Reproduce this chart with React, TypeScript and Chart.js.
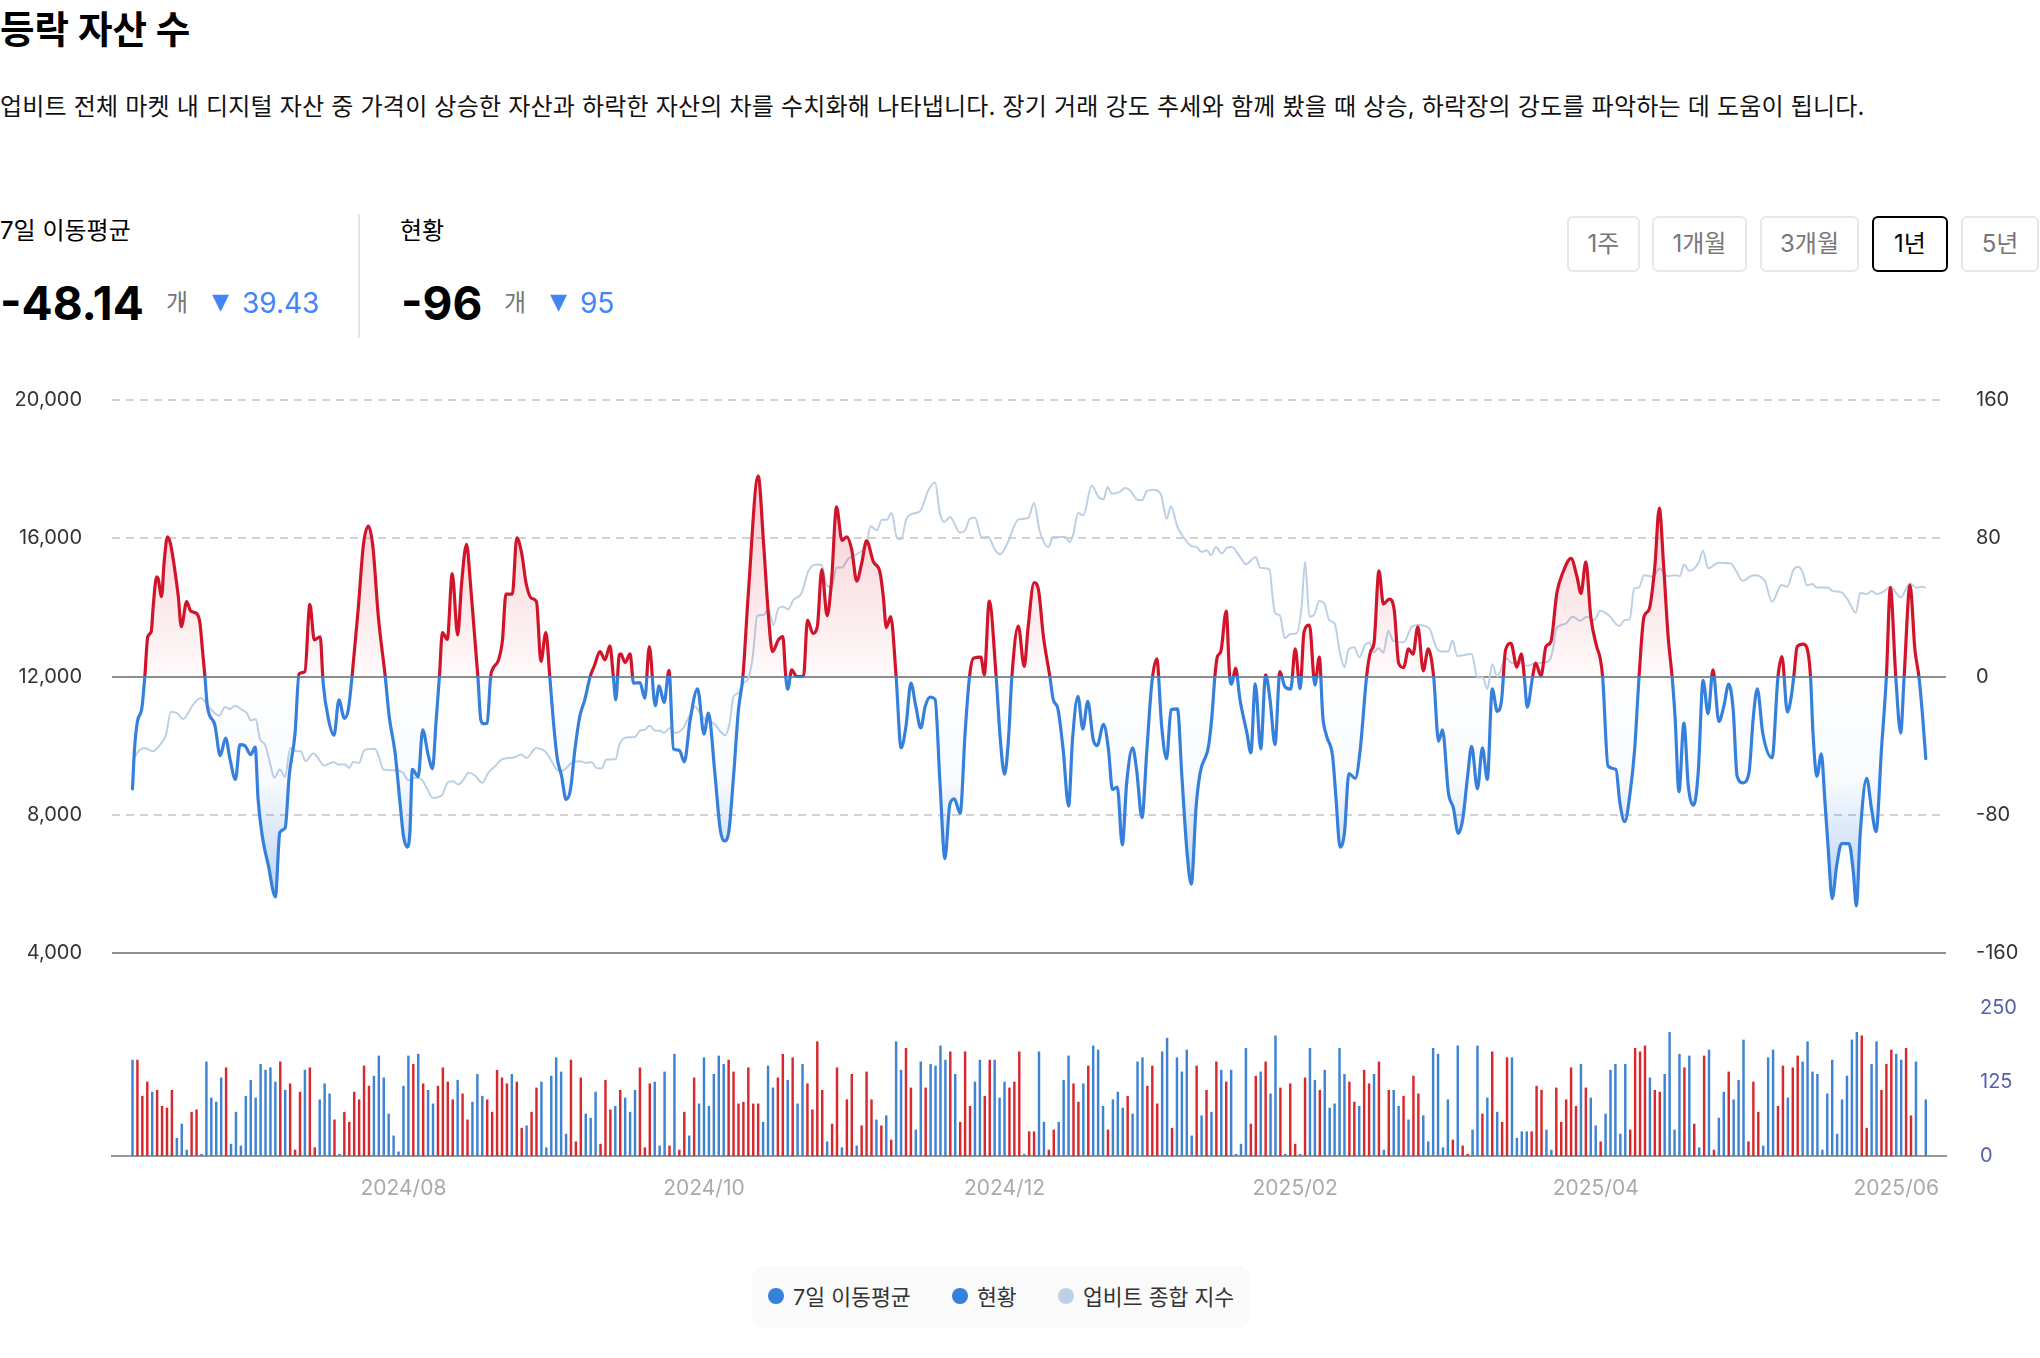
import React, { useEffect, useRef } from 'react';
import { Chart, registerables } from 'chart.js';

Chart.register(...registerables);

const FONT = 'Inter, "Noto Sans CJK KR", sans-serif';
Chart.defaults.font.family = FONT;

const RED = '#d2142a';
const BLUE = '#3680dc';
const INDEX_COLOR = '#bcd0e5';

// days counted from the first bar
const maDays = [
  0, 0.4, 1, 1.9, 2.5, 3.1, 3.8, 4.2, 4.9, 5.2,
  5.9, 6.4, 7.1, 7.7, 8.6, 9.3, 9.9, 11, 11.8, 13,
  13.7, 14.2, 14.7, 15.2, 16.7, 17.8, 18.9, 19.8, 20.9, 21.8,
  22.8, 24, 24.9, 25.5, 26.4, 27.6, 29, 29.9, 31, 31.8,
  33, 33.8, 35, 36, 36.9, 38.1, 38.7, 39.8, 40.9, 41.9,
  43, 43.8, 44.6, 45.8, 46.9, 47.9, 48.8, 49.9, 51.3, 52.1,
  53.3, 54.3, 55, 55.8, 56.3, 56.8, 58, 58.9, 60, 60.9,
  61.6, 62.3, 62.9, 63.9, 64.9, 66, 66.8, 67.8, 68.6, 70.1,
  70.7, 71.2, 72, 72.7, 73.2, 74.3, 75.1, 75.8, 77.1, 78,
  79, 79.9, 81, 82, 82.9, 83.9, 84.7, 85.4, 86.2, 87.1,
  88, 88.9, 89.8, 90.8, 91.8, 92.9, 93.7, 94.9, 95.9, 96.9,
  97.6, 98.1, 98.8,
  99.1, 100, 101, 101.7, 103, 104, 104.9, 106.1, 106.9, 107.9,
  108.9, 109.8, 111, 112, 113.2, 114.7, 116, 116.9, 118.2, 119.3,
  120.1, 121, 122, 123, 123.9, 125, 127, 128.1, 129.1, 129.9,
  131.1, 132, 132.6, 133, 133.8, 134.8, 136.2, 137, 138.1, 139,
  139.9, 141, 141.9, 142.9, 144, 145, 146, 147, 148, 149,
  150.4, 151.7, 152.4, 153, 153.9, 155, 156, 157, 158, 159,
  160, 160.9, 161.9, 162.9, 163.9, 164.9, 165.9, 166.8, 168, 169,
  169.9, 170.7, 172.2, 172.9, 173.9, 175.3, 176.1, 177, 177.8, 178.5,
  179.8, 181, 181.8, 183, 183.9, 184.9, 186.2, 186.9, 187.8, 188.9,
  190, 190.8, 191.9, 192.9, 193.9, 195, 195.8,
  197.1, 198.1, 198.9, 199.9, 200.9, 201.8, 203, 203.8, 204.9, 205.9,
  206.9, 207.9, 208.9, 209.9, 210.8, 212.1, 213, 214, 214.9, 215.9,
  216.7, 218.4, 219.1, 219.7, 220.2, 220.9, 222, 222.7, 223.1, 223.9,
  224.8, 226.2, 227, 227.9, 229, 230, 230.9, 231.9, 232.9, 233.9,
  235.1, 236, 237, 237.8, 238.9, 240, 240.9, 241.6, 242.4, 243.6,
  244.3, 245.1, 246, 246.9, 248.2, 249.2, 250.5, 251.3, 252, 253,
  253.9, 255.1, 256.1, 257, 258, 259, 259.9, 260.9, 262, 263,
  264.1, 265.1, 265.9, 267.1, 268.1, 269.1, 270, 271, 271.8, 273,
  274, 275, 276, 277, 277.9, 278.7, 279.8, 281, 281.9, 282.5,
  283.1, 284.2, 284.8, 285.9, 286.9, 287.9, 289.1, 290.4, 292, 293.2,
  294, 295, 296, 297.2, 297.9, 298.4,
  299.5, 301.1, 301.9, 302.9, 303.9, 304.9, 305.8, 306.8, 307.8, 309,
  309.9, 310.8, 311.7, 312.5, 313.1, 313.9, 314.9, 315.8, 316.9, 317.8,
  318.8, 319.8, 320.8, 322, 323, 324, 324.9, 325.7, 326.9, 328.1,
  329, 329.8, 330.9, 332.8, 334, 334.8, 335.9, 336.7, 337.2, 337.9,
  339.1, 339.9, 340.6, 341.1, 341.9, 342.8, 343.5, 344.2, 345, 345.9,
  346.9, 348.4, 349.3, 349.9, 350.7, 352, 353, 353.9, 355, 356,
  356.8, 357.9, 358.9, 359.6, 360.8, 361.8, 362.6, 363.3, 364,
];
const maValues = [
  -65, -42.3, -26, -18.3, 0, 23, 26, 40.4, 57.7, 56.7,
  46.2, 65.4, 80.8, 76.9, 61.5, 46.2, 28.8, 43.3, 37.9, 36.5,
  30.8, 15.4, 0, -17.3, -27.9, -45.8, -35.6, -48, -59.6, -39.4,
  -40, -45.2, -40.8, -71.2, -93.3, -109.6, -127.5, -90.4, -87.5, -57.7,
  -32.7, 1.5, 2.9, 41.7, 21.2, 23, -3.8, -25, -34, -13.5,
  -24.2, -19.2, 1, 38.5, 76.9, 87.1, 75, 34.6, 0, -23,
  -44.2, -73, -92.3, -98.7, -90.4, -53.8, -58, -30.8, -45.2, -53.3,
  -26.9, 0, 25.4, 21.5, 59.6, 24, 53.8, 76.5, 53.8, 0,
  -25, -27.3, -26.9, 0, 4.8, 9.6, 21.2, 47.7, 47.7, 80.2,
  71.2, 53.8, 45.2, 43.3, 8.7, 25.4, 0, -25, -47.1, -57.7,
  -71.2, -65.4, -42.3, -23, -13.5, 0, 5.8, 14.4, 9.6, 17.7,
  0, -13.5, 12.5,
  13.1, 8.1, 13.1, -3.8, -3.5, -12.5, 17.3, -16.9, -5.4, -15,
  3.5, -41.9, -42.7, -49.4, -25, -7.1, -33.3, -21.2, -55.8, -88.5,
  -95.2, -90.4, -57.7, -19.2, 0, 48.1, 116, 76.9, 34.6, 14.4,
  21.2, 23.1, 0, -7.3, 3.8, 0, 0, 32.7, 25, 28.8,
  61.9, 35.2, 55.8, 98.1, 78.8, 80.8, 73.1, 55.2, 65.4, 78.5,
  66.3, 60.6, 46.2, 28.3, 34.6, 0, -41.3, -28.8, -3.8, -17.3,
  -29.8, -17.3, -11.9, -13.1, -61.5, -105.4, -74, -70.8, -79.2, -32.7,
  0, 10.6, 11.2, 1, 43.7, 0, -34.6, -56.7, -36.5, 0,
  29.2, 5.8, 28.8, 54.4, 50, 23.1, 0, -13.5, -18.3, -42.3,
  -75, -36.5, -11.5, -30.4, -14.4, -36.5, -40,
  -27.7, -42.3, -65.4, -64, -97.5, -61.5, -41.3, -53.8, -81.7, -42.3,
  -3.8, 10.2, -28.8, -47.7, -19.2, -18.7, -57.7, -100, -120.2, -75,
  -55.8, -40.4, -23, 0, 11.5, 14.4, 37.9, 0, -4.4, 4.8,
  -13.5, -32.7, -44.2, -4.2, -41.9, 1, -13.5, -39.4, 2.9, -5.8,
  -7.3, 16, -7.1, 26, 29.8, -5, 11.2, -23, -34.6, -46.2,
  -71.2, -98.7, -90.4, -56.2, -59, -42.3, 0, 14.4, 19.2, 61.2,
  41.9, 44.8, 38.5, 7.7, 5.2, 16, 12.9, 28.8, 3.3, 16,
  0, -37.5, -30.8, -67.3, -76, -90.8, -82.7, -57.7, -40.4, -65,
  -41.3, -59.6, -7.1, -20.2, -13.5, 15.4, 19.2, 5.4, 13.1, 0,
  -17.7, 0, 7.7, 0.4, 17.3, 20.2, 48.1, 60.6, 68.3, 57.7,
  48.1, 66.3, 34.6, 17.3, 10.6, 0,
  -51.9, -53.8, -73.1, -84, -69.2, -42.3, 0, 34.6, 38.5, 63.5,
  97.5, 63.5, 23.1, 0, -23.1, -66.7, -26.9, -63.5, -74.4, -55.8,
  -2.3, -21.5, 3.8, -26, -17.3, -4.4, -19.2, -57.7, -61.5, -55.8,
  -23.1, -7.1, -32.7, -47.1, 0, 11.5, -20.6, -11.5, 0, 17.3,
  18.7, 16.3, 0, -32.7, -57.7, -44.8, -71.2, -100, -128.5, -109.6,
  -96.7, -96.7, -113.5, -132.7, -90.4, -59, -76.9, -89.8, -42.3, 0,
  51.5, 0, -32.7, 0, 52.9, 15.4, 0, -21.2, -47.5,
];

// 업비트 종합 지수
const indexDays = [
  0, 1.2, 2.5, 4.1, 5.6, 6.8, 7.8, 9, 10.3, 11.3,
  12.3, 13.9, 15.4, 17.6, 18.8, 19.7, 20.8, 22.2, 23.2, 24,
  25, 25.9, 26.9, 27.9, 28.8, 29.9, 31, 32, 33.3, 34.2,
  35.1, 36.7, 37.4, 38.9, 40.8, 41.8, 43.1, 44, 44.8, 46,
  46.9, 47.9, 49.2, 50.1, 50.9, 53.3, 54.8, 56, 57.3, 58.7,
  59.7, 60.9, 62.8, 64.1, 65.1, 66.1, 67.2, 68.2, 69.5, 71,
  72.2, 73.6, 74.9, 76.3, 77.6, 78.8, 80, 81.9, 83.7, 84.7,
  86, 87.1, 88.1, 89.1, 90.8, 92.2, 93.2, 94.1, 95.2, 96.2,
  98.1, 98.8,
  100.7, 102, 103, 104, 105, 106.1, 107.1, 107.9, 109.1, 110.1,
  111.8, 113, 114.2, 115.2, 116.6, 117.9, 119.3, 120.3, 121.2, 122,
  123, 124, 125, 125.9, 126.8, 128.1, 129.1, 130.1, 131.1, 132.1,
  133.1, 134.1, 135.8, 137.2, 138.9, 139.9, 140.9, 141.9, 142.9, 144,
  145.3, 147, 149, 149.8, 151.1, 152.1, 153.1, 154.1, 155.1, 156,
  157.1, 158.5, 160, 161.5, 162.9, 163.9, 164.8, 165.9, 168, 169,
  170, 171, 172.4, 173.7, 175.1, 176.1, 177.4, 179.8, 181.8, 183,
  184.1, 185.9, 186.9, 189.3, 190.2, 191, 191.9, 193, 194.7, 196.1,
  197.1, 197.9, 198.8, 200.3,
  201.5, 202.5, 203.7, 204.9, 205.9, 207.2, 208.7, 209.9, 210.8, 212.1,
  213.3, 215, 215.9, 217, 218.1, 218.9, 219.9, 221.1, 222.2, 223.1,
  224.8, 226, 228, 228.9, 230.8, 231.4, 231.9, 232.9, 233.9, 235,
  236.3, 237.3, 238, 238.9, 239.8, 240.9, 241.9, 242.9, 244, 245.1,
  246, 246.8, 248, 249, 250.2, 251.1, 251.9, 252.9, 253.9, 254.9,
  255.9, 258, 259.7, 261, 263.2, 264.7, 265.8, 267.1, 267.9, 268.9,
  271.8, 273, 274.1, 275, 276, 277, 278.8, 280, 281.3, 283,
  285, 287.4, 288.3, 289, 290.8, 292.3, 293.8, 295.2, 296.7, 297.9,
  299.6, 301.8,
  302.9, 303.9, 304.8, 305.8, 306.8, 308.7, 309.9, 311.7, 313.1, 314.1,
  314.9, 316, 317.8, 318.8, 319.8, 321.9, 324.4, 325.6, 326.8, 329,
  331.3, 332.8, 334.7, 335.9, 337.1, 338.1, 339.1, 339.8, 341, 341.8,
  344.2, 345.1, 346.9, 348.2, 349.8, 350.7, 352, 353, 354, 355.4,
  356.8, 358.9, 360.8, 362.1, 363.1, 364,
];
const indexValues = [
  9548, 9837, 9933, 9837, 10029, 10317, 10971, 10942, 10769, 10942,
  11183, 11375, 11135, 10865, 11115, 11058, 11154, 11038, 10942, 10731,
  10769, 10173, 10029, 9500, 9067, 9308, 9096, 9933, 9837, 9837,
  9548, 9769, 9692, 9423, 9529, 9452, 9452, 9356, 9529, 9500,
  9837, 9904, 9913, 9644, 9308, 9288, 9231, 9000, 9067, 9019,
  8779, 8491, 8567, 8952, 8971, 8875, 9019, 9212, 9135, 8923,
  9212, 9404, 9596, 9644, 9663, 9740, 9644, 9933, 9837, 9644,
  9327, 9260, 9356, 9500, 9548, 9500, 9519, 9356, 9337, 9596,
  9615, 10029,
  10240, 10250, 10433, 10462, 10577, 10433, 10433, 10365, 10510, 10365,
  10510, 10846, 11135, 10942, 10702, 10654, 10414, 10298, 10654, 11423,
  11519, 11808, 11952, 12577, 13760, 13779, 13942, 13490, 13971, 14019,
  13942, 14211, 14404, 15058, 15240, 15221, 14644, 14577, 15154, 15154,
  15413, 15538, 15846, 16346, 16231, 16538, 16538, 16731, 16038, 15971,
  16567, 16711, 16808, 17384, 17615, 16711, 16471, 16615, 16163, 16231,
  16567, 16596, 16019, 16038, 15654, 15538, 15798, 16538, 16586, 17019,
  16231, 15750, 16038, 16038, 15894, 16134, 16731, 16663, 17529, 17192,
  17125, 17481, 17288, 17336,
  17452, 17384, 17144, 17096, 17365, 17404, 17288, 16567, 16923, 16327,
  16038, 15769, 15750, 15606, 15654, 15509, 15750, 15558, 15731, 15750,
  15461, 15250, 15461, 15144, 15096, 14308, 13846, 13760, 13106, 13231,
  13250, 14019, 15317, 13731, 13779, 14183, 14115, 13635, 13538, 12673,
  12269, 12769, 12846, 12558, 12913, 12981, 12692, 12817, 12692, 13317,
  13029, 12990, 13442, 13490, 13394, 12817, 12721, 12721, 13038, 12596,
  12654, 11971, 11971, 11635, 12356, 12000, 12529, 12385, 12433, 12308,
  12385, 12433, 12769, 13394, 13519, 13731, 13615, 13731, 13635, 13904,
  13779, 13461,
  13635, 13654, 14548, 14577, 14933, 14885, 15125, 14904, 14933, 14904,
  15240, 15058, 15269, 15635, 15125, 15288, 15269, 15029, 14769, 14933,
  14769, 14163, 14644, 14596, 15077, 15173, 14981, 14644, 14673, 14577,
  14567, 14471, 14433, 14211, 13846, 14423, 14385, 14471, 14385, 14452,
  14596, 14288, 14692, 14567, 14596, 14567,
];

// one bar per day: size is the bar height, sign is up (red) or down (blue)
const barChanges = [
  -162, 162, 101, 125, -108, 111, 84, 81, 111, -30,
  -54, -10, 74, 78, -3, -159, -98, -91, -132, 149,
  -20, -74, -17, -101, -128, -98, -155, -145, -149, -125,
  159, -111, 122, 10, 108, -145, 149, 14, -95, -122,
  -105, 61, -3, 74, 57, 108, 95, 152, 118, -135,
  -169, -132, -71, -34, -7, -118, -169, 155, -172, 122,
  -111, -88, 118, 149, 125, 95, -128, 105, 61, -91,
  -138, -101, 95, 74, 145, 132, 122, -138, 125, 47,
  -51, 74, 115, -125, -14, -135, -166, -142, -37, 162,
  24, 132, -71, -64, -108, 20, 128, 78, -84, 111,
  -98, -74, -111, 149, 14, 122, -125, -17, -142, 17,
  -172, 10, 74, -34, 132, -88, -166, -84, -138, -169,
  -155, 162, 142, 88,
  91, 149, 88, 88, -57, -152, -115, 132, 172, -128,
  166, -88, -155, 122, 78, 193, 111, -24, 54, 149,
  -14, 95, 138, -17, 51, 142, 95, -61, 51, -68,
  27, -193, -145, 182, 115, -44, -159, 115, -155, -152,
  -186, -162, 176, -138, 57, 176, 84, -125, -162, 101,
  162, -162, -98, -125, 115, 125, 176, -3, 41, 41,
  -176, -57, 10, 44, -57, -128, -169, 122, 91, -122,
  152, -186, -179, -84, 44, -95, -108, -81, 101, -71,
  -159, -166, 118, 152, 88, -176, -199, 47, -166, -142,
  -179, -34, 152, -68, 111, -74, 159, -145, 125, -145,
  -3, -20, -182, 54, 135, -142, 159, -105, -203, 115,
  -3, 122, 20, -3, 132, -182, -128, 111, -145, -81,
  -88, -182, -138, 125, 91, -84, 145, 122, -138, 159,
  -10, 111, -111, -84, 101, -61, 135, 105, -68, -24,
  -182, -172, -14, -95, 27, -186, 17, 3, -44, -186,
  71, -98, 176, -74, 57, 166, -166, -30, -41, -41,
  41, 118, 111, -44, -10, 115, 57, 95, 149, 84,
  -155, 115, -98, -51, 24, -71, -145, -155, -37, -155,
  44, 182, 176, 186, -132, 111, 108, -138, -209, -44,
  -172, 149, -169, 54, -14, 169, -179, 10, -64, -108,
  142, -95, -128, -196, 24, 125, 74, -17, -166, -179,
  84, 152, -98, 149, 169, -159, -193, -142, -138, -10,
  -105, -162, -37, -95, -135, -196, -209, 203, 47, -155,
  -193, 111, 155, 179, -172, -162, 182, 68, -159, 0,
  -95,
];

const tickDays = [55, 116, 177, 236, 297, 358];
const tickLabels = ['2024/08', '2024/10', '2024/12', '2025/02', '2025/04', '2025/06'];
const periods = ['1주', '1개월', '3개월', '1년', '5년'];

// the day range the plot width stands for
const xMin = -4.16;
const xMax = 368.1;

const zip = (xs: number[], ys: number[]) => xs.map((x, i) => ({ x, y: ys[i] }));

const Text: React.FC<{ x: number; y: number; size: number; color?: string; weight?: number; family?: string; spacing?: number; children: React.ReactNode }> = ({
  x, y, size, color = '#000', weight = 400, family = FONT, spacing = 0, children,
}) => (
  <div style={{ position: 'absolute', left: x, top: y - size, fontSize: size, lineHeight: `${size * 2}px`, color, fontWeight: weight, fontFamily: family, letterSpacing: spacing, whiteSpace: 'nowrap' }}>
    {children}
  </div>
);

const App: React.FC = () => {
  const mainRef = useRef<HTMLCanvasElement>(null);
  const barRef = useRef<HTMLCanvasElement>(null);

  useEffect(() => {
    const main = new Chart(mainRef.current!, {
      type: 'line',
      data: {
        datasets: [
          {
            label: '7일 이동평균',
            data: zip(maDays, maValues),
            yAxisID: 'y1',
            borderColor: BLUE,
            borderWidth: 3.2,
            borderCapStyle: 'round',
            borderJoinStyle: 'round',
            cubicInterpolationMode: 'monotone',
            pointRadius: 0,
            fill: { target: { value: 0 }, above: 'transparent', below: 'transparent' },
            order: 1,
          },
          {
            label: '업비트 종합 지수',
            data: zip(indexDays, indexValues),
            yAxisID: 'y',
            borderColor: INDEX_COLOR,
            borderWidth: 2,
            cubicInterpolationMode: 'monotone',
            pointRadius: 0,
            fill: false,
            order: 2,
          },
        ],
      },
      options: {
        responsive: false,
        animation: false,
        plugins: { legend: { display: false }, tooltip: { enabled: false } },
        scales: {
          x: { type: 'linear', min: xMin, max: xMax, display: false },
          y: {
            position: 'left',
            min: 4000,
            max: 20000,
            afterFit: (s: any) => { s.width = 112; },
            afterBuildTicks: (s: any) => { s.ticks = [20000, 16000, 12000, 8000, 4000].map((value) => ({ value })); },
            ticks: {
              padding: 30,
              color: '#333',
              font: { size: 20 },
              callback: (v: any) => Number(v).toLocaleString('en-US'),
            },
            grid: {
              drawTicks: false,
              lineWidth: 2,
              color: (c: any) => (c.tick.value === 12000 || c.tick.value === 4000 ? '#8e8e8e' : '#d2d2d2'),
            },
            border: {
              display: false,
              dash: (c: any) => (c.tick.value === 12000 || c.tick.value === 4000 ? [] : [8, 6]),
            },
          },
          y1: {
            position: 'right',
            min: -160,
            max: 160,
            afterFit: (s: any) => { s.width = 94; },
            afterBuildTicks: (s: any) => { s.ticks = [160, 80, 0, -80, -160].map((value) => ({ value })); },
            ticks: { padding: 30, color: '#333', font: { size: 20 }, callback: (v: any) => String(v) },
            grid: { display: false, drawTicks: false },
            border: { display: false },
          },
        },
      },
    } as any);

    // the colours change at the zero line, so they need the drawn scale
    const ctx = main.ctx;
    const { top, bottom } = main.chartArea;
    const zero = main.scales.y1.getPixelForValue(0);
    const stop = (zero - top) / (bottom - top);
    const stroke = ctx.createLinearGradient(0, top, 0, bottom);
    stroke.addColorStop(0, RED);
    stroke.addColorStop(stop, RED);
    stroke.addColorStop(stop, BLUE);
    stroke.addColorStop(1, BLUE);
    const above = ctx.createLinearGradient(0, main.scales.y1.getPixelForValue(100), 0, zero);
    above.addColorStop(0, 'rgba(217, 18, 43, 0.2)');
    above.addColorStop(1, 'rgba(217, 18, 43, 0.02)');
    const below = ctx.createLinearGradient(0, zero, 0, main.scales.y1.getPixelForValue(-130));
    below.addColorStop(0, 'rgba(54, 128, 220, 0)');
    below.addColorStop(0.45, 'rgba(54, 128, 220, 0.03)');
    below.addColorStop(1, 'rgba(54, 128, 220, 0.36)');
    const ma: any = main.data.datasets[0];
    ma.borderColor = stroke;
    ma.fill = { target: { value: 0 }, above, below };
    main.update();

    const bars = new Chart(barRef.current!, {
      type: 'bar',
      data: {
        datasets: [
          {
            label: '거래량',
            data: barChanges.map((v, i) => ({ x: i, y: Math.abs(v) })),
            backgroundColor: barChanges.map((v) => (v > 0 ? '#d8292f' : '#3f83d3')),
            barThickness: 1.8,
          },
        ],
      },
      options: {
        responsive: false,
        animation: false,
        layout: { padding: { left: 112 } },
        plugins: { legend: { display: false }, tooltip: { enabled: false } },
        scales: {
          x: {
            type: 'linear',
            min: xMin,
            max: xMax,
            offset: false,
            afterBuildTicks: (s: any) => { s.ticks = tickDays.map((value) => ({ value })); },
            afterFit: (s: any) => { s.height = 64; },
            ticks: {
              autoSkip: false,
              maxRotation: 0,
              padding: 20,
              color: '#aaa',
              font: { size: 21 },
              callback: (v: any) => tickLabels[tickDays.indexOf(Number(v))],
            },
            grid: { display: false, drawTicks: false },
            border: { display: true, color: '#999', width: 2 },
          },
          y: {
            position: 'right',
            min: 0,
            max: 250,
            afterFit: (s: any) => { s.width = 94; },
            afterBuildTicks: (s: any) => { s.ticks = [250, 125, 0].map((value) => ({ value })); },
            ticks: { padding: 34, color: '#5560b0', font: { size: 20 }, callback: (v: any) => String(v) },
            grid: { display: false, drawTicks: false },
            border: { display: false },
          },
        },
      },
    } as any);

    return () => {
      main.destroy();
      bars.destroy();
    };
  }, []);

  return (
    <div style={{ position: 'relative', width: 2040, height: 1358, overflow: 'hidden', fontFamily: FONT }}>
      <style>{'body { margin: 0; background: #fff; }'}</style>

      <Text x={0} y={29} size={37.5} weight={700}>등락 자산 수</Text>
      <Text x={0} y={107} size={24} color="#111" spacing={0.2}>
        업비트 전체 마켓 내 디지털 자산 중 가격이 상승한 자산과 하락한 자산의 차를 수치화해 나타냅니다. 장기 거래 강도 추세와 함께 봤을 때 상승, 하락장의 강도를 파악하는 데 도움이 됩니다.
      </Text>

      <Text x={0} y={231} size={24}>7일 이동평균</Text>
      <Text x={0} y={303} size={46} weight={700}>-48.14</Text>
      <Text x={166} y={303} size={24} color="#777">개</Text>
      <Text x={212} y={302} size={22} color="#4285f4" family="DejaVu Sans">▼</Text>
      <Text x={242} y={303} size={28} color="#4285f4">39.43</Text>

      <div style={{ position: 'absolute', left: 358, top: 214, width: 2, height: 124, background: '#e4e4ea' }} />

      <Text x={400} y={231} size={24}>현황</Text>
      <Text x={401} y={303} size={46} weight={700}>-96</Text>
      <Text x={504} y={303} size={24} color="#777">개</Text>
      <Text x={550} y={302} size={22} color="#4285f4" family="DejaVu Sans">▼</Text>
      <Text x={580} y={303} size={28} color="#4285f4">95</Text>

      {periods.map((p, i) => {
        const lefts = [1567, 1652, 1760, 1872, 1961];
        const widths = [73, 95, 99, 76, 78];
        const active = p === '1년';
        return (
          <div
            key={p}
            style={{
              position: 'absolute', left: lefts[i], top: 216, width: widths[i], height: 56, boxSizing: 'border-box',
              border: `2px solid ${active ? '#000' : '#e8e8e8'}`, borderRadius: 6, color: active ? '#000' : '#777',
              fontSize: 24, lineHeight: '52px', textAlign: 'center',
            }}
          >
            {p}
          </div>
        );
      })}

      <canvas ref={mainRef} width={2040} height={637} style={{ position: 'absolute', left: 0, top: 358 }} />
      <canvas ref={barRef} width={2040} height={258} style={{ position: 'absolute', left: 0, top: 962 }} />

      <div style={{ position: 'absolute', left: 752, top: 1266, width: 498, height: 62, background: '#fafafa', borderRadius: 12 }} />
      <div style={{ position: 'absolute', left: 768, top: 1288, width: 16, height: 16, borderRadius: 8, background: BLUE }} />
      <Text x={793} y={1298} size={21.6} color="#333">7일 이동평균</Text>
      <div style={{ position: 'absolute', left: 952, top: 1288, width: 16, height: 16, borderRadius: 8, background: BLUE }} />
      <Text x={977} y={1298} size={21.6} color="#333">현황</Text>
      <div style={{ position: 'absolute', left: 1058, top: 1288, width: 16, height: 16, borderRadius: 8, background: INDEX_COLOR }} />
      <Text x={1083} y={1298} size={21.6} color="#333">업비트 종합 지수</Text>
    </div>
  );
};

export default App;
